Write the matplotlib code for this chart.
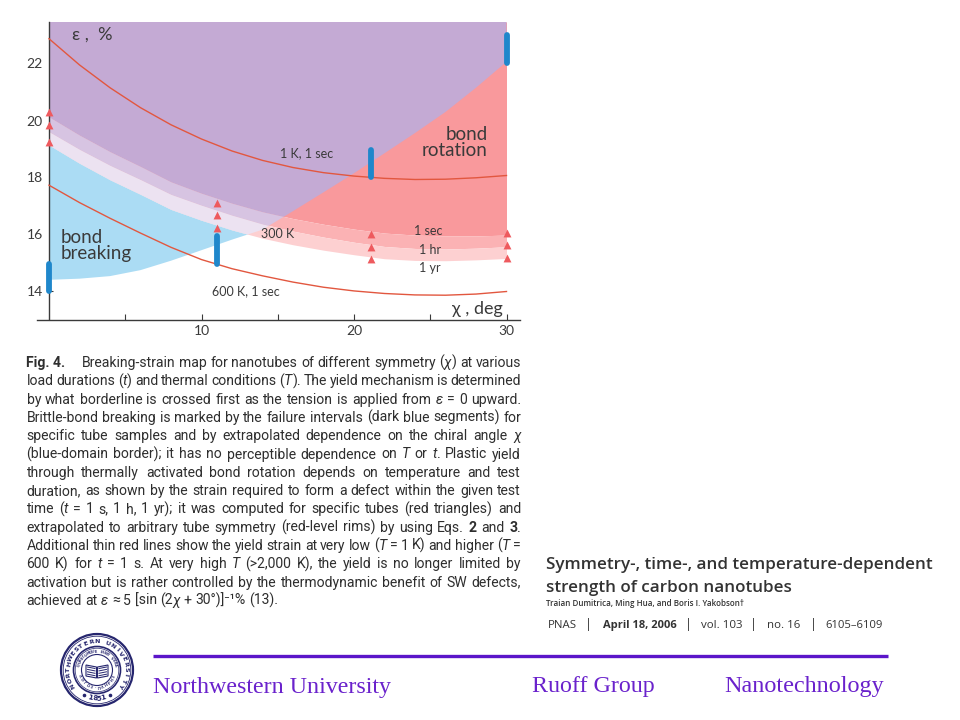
import re
import numpy as np
import matplotlib
matplotlib.use("Agg")
import matplotlib.pyplot as plt
from matplotlib.patches import Polygon, Circle

plt.rcParams['font.family'] = ['Lato', 'DejaVu Sans']

chi = [0, 2, 4, 6, 8, 10, 12, 14, 16, 18, 20, 22, 24, 26, 28, 30]
# red-level rims (bond rotation, 300 K) for t = 1 sec, 1 hr, 1 yr
rim_1sec = [20.13, 19.49, 18.91, 18.39, 17.85, 17.45, 17.10, 16.80, 16.56, 16.36, 16.19, 16.05, 15.98, 15.95, 15.95, 15.98]
rim_1hr = [19.61, 18.99, 18.43, 17.93, 17.41, 17.03, 16.68, 16.37, 16.12, 15.91, 15.73, 15.58, 15.51, 15.49, 15.52, 15.57]
rim_1yr = [19.14, 18.50, 17.92, 17.41, 16.88, 16.50, 16.16, 15.87, 15.64, 15.45, 15.29, 15.15, 15.09, 15.08, 15.11, 15.16]
# blue-domain border (bond breaking)
blue_border = [14.41, 14.45, 14.54, 14.75, 15.08, 15.45, 15.82, 16.17, 16.82, 17.48, 18.15, 18.85, 19.56, 20.30, 21.15, 22.06]
# thin red lines
line_1K = [22.87, 21.95, 21.15, 20.45, 19.85, 19.35, 18.93, 18.60, 18.35, 18.17, 18.05, 17.97, 17.93, 17.94, 17.99, 18.07]
line_600K = [17.73, 17.12, 16.57, 16.05, 15.55, 15.12, 14.80, 14.55, 14.33, 14.15, 14.02, 13.93, 13.88, 13.87, 13.91, 14.00]

# computed tubes (red triangles)
tri_chi = [0, 0, 0, 11.0, 11.0, 11.0, 21.1, 21.1, 21.1, 30, 30, 30]
tri_eps = [20.31, 19.84, 19.26, 17.12, 16.70, 16.22, 16.00, 15.57, 15.13, 16.05, 15.62, 15.18]
# failure intervals (dark blue segments)
bar_chi = [0, 11.0, 21.1, 30]
bar_lo = [14.0, 14.95, 18.0, 22.0]
bar_hi = [14.95, 15.95, 18.95, 23.0]

y_ticks = [14, 16, 18, 20, 22]
x_ticks = [5, 10, 15, 20, 25, 30]
x_tick_labels = ['', '10', '', '20', '', '30']

caption_head = "Fig. 4."
caption = [
    "Breaking-strain map for nanotubes of different symmetry ({i:χ}) at various",
    "load durations ({i:t}) and thermal conditions ({i:T}). The yield mechanism is determined",
    "by what borderline is crossed first as the tension is applied from {i:ε} = 0 upward.",
    "Brittle-bond breaking is marked by the failure intervals (dark blue segments) for",
    "specific tube samples and by extrapolated dependence on the chiral angle {i:χ}",
    "(blue-domain border); it has no perceptible dependence on {i:T} or {i:t}. Plastic yield",
    "through thermally activated bond rotation depends on temperature and test",
    "duration, as shown by the strain required to form a defect within the given test",
    "time ({i:t} = 1 s, 1 h, 1 yr); it was computed for specific tubes (red triangles) and",
    "extrapolated to arbitrary tube symmetry (red-level rims) by using Eqs. {b:2} and {b:3}.",
    "Additional thin red lines show the yield strain at very low ({i:T} = 1 K) and higher ({i:T} =",
    "600 K) for {i:t} = 1 s. At very high {i:T} (>2,000 K), the yield is no longer limited by",
    "activation but is rather controlled by the thermodynamic benefit of SW defects,",
    "achieved at {i:ε} ≈ 5 [sin (2{i:χ} + 30°)]⁻¹% (13).",
]

title_lines = ["Symmetry-, time-, and temperature-dependent", "strength of carbon nanotubes"]
authors = "Traian Dumitrica, Ming Hua, and Boris I. Yakobson†"
pnas_parts = [("PNAS", 548, 577, 'normal'), ("|", 587, 590, 'normal'),
              ("April 18, 2006", 603, 677, 'bold'), ("|", 687, 690, 'normal'),
              ("vol. 103", 701, 742, 'normal'), ("|", 752, 755, 'normal'),
              ("no. 16", 767, 800, 'normal'), ("|", 812, 815, 'normal'),
              ("6105–6109", 825, 882, 'normal')]

c_purple = '#c4aad4'
c_lpurple = '#d7c4e2'
c_lavender = '#ece2f1'
c_blue = '#abdcf4'
c_salmon = '#f9999c'
c_pink = '#fbb2b4'
c_lpink = '#fdd0d1'
c_tri = '#ee5a5e'
c_bar = '#1f87cb'
c_line = '#e2573f'
dark = '#3a3a3a'

fig = plt.figure(figsize=(9.6, 7.2), dpi=100)
ov = fig.add_axes([0, 0, 1, 1])
ov.set_xlim(0, 960)
ov.set_ylim(720, 0)
ov.axis('off')

# chart axes, placed in pixel terms: chi=0 at x=49 px, 15.25 px/deg; eps=20 at y=120.5 px, 28.5 px/unit
ax = fig.add_axes([37 / 960, 1 - 319.5 / 720, (520 - 37) / 960, (319.5 - 22) / 720])
ax.patch.set_alpha(0)
x0, x1 = -(49 - 37) / 15.25, (520 - 49) / 15.25
y0, y1 = 20 - (319.5 - 120.5) / 28.5, 20 + (120.5 - 22) / 28.5
ax.set_xlim(x0, x1)
ax.set_ylim(y0, y1)

# red levels
ax.fill_between(chi, rim_1sec, y1, color=c_salmon, lw=0, zorder=1)
ax.fill_between(chi, rim_1hr, rim_1sec, color=c_pink, lw=0, zorder=1)
ax.fill_between(chi, rim_1yr, rim_1hr, color=c_lpink, lw=0, zorder=1)

# blue domain (everything above the blue border), overlaps drawn in purples
dom = [(c, b) for c, b in zip(chi, blue_border)] + [(chi[-1], y1 + 1), (chi[0], y1 + 1)]
clip = Polygon(dom, closed=True, transform=ax.transData)
for lo, hi, col in [(y0, rim_1yr, c_blue), (rim_1yr, rim_1hr, c_lavender),
                    (rim_1hr, rim_1sec, c_lpurple), (rim_1sec, y1, c_purple)]:
    coll = ax.fill_between(chi, lo, hi, color=col, lw=0, zorder=2)
    coll.set_clip_path(clip)

ax.plot(chi, line_1K, color=c_line, lw=1.0, zorder=3)
ax.plot(chi, line_600K, color=c_line, lw=1.0, zorder=3)
ax.scatter(tri_chi, tri_eps, marker='^', s=32, color=c_tri, lw=0, zorder=4, clip_on=False)
for c, lo, hi in zip(bar_chi, bar_lo, bar_hi):
    ax.plot([c, c], [lo, hi], color=c_bar, lw=4.2, solid_capstyle='round', zorder=5, clip_on=False)

for s in ['top', 'right']:
    ax.spines[s].set_visible(False)
ax.spines['left'].set_position(('data', 0))
for s in ['left', 'bottom']:
    ax.spines[s].set_color(dark)
    ax.spines[s].set_linewidth(1.0)
ax.set_yticks(y_ticks)
ax.set_xticks(x_ticks)
ax.set_xticklabels(x_tick_labels)
ax.tick_params(axis='y', direction='in', length=3, width=0.8, color=dark, labelsize=10, labelcolor=dark, pad=4.5)
ax.tick_params(axis='x', direction='in', length=4, width=0.8, color=dark, labelsize=10, labelcolor=dark, pad=4)

tk = dict(color=dark, zorder=6)
ax.text(1.5, 23.03, "ε ,  %", fontsize=13, ha='left', va='center', **tk)
ax.text(29.73, 13.38, "χ , deg", fontsize=13, ha='right', va='center', **tk)
ax.text(0.73, 15.6, "bond\nbreaking", fontsize=13.5, ha='left', va='center', linespacing=0.92, **tk)
ax.text(28.78, 19.22, "bond\nrotation", fontsize=13.5, ha='right', va='center', linespacing=0.92, **tk)
ax.text(16.92, 18.84, "1 K, 1 sec", fontsize=9, ha='center', va='center', **tk)
ax.text(14.97, 16.01, "300 K", fontsize=9, ha='center', va='center', **tk)
ax.text(24.9, 16.11, "1 sec", fontsize=9, ha='center', va='center', **tk)
ax.text(25.0, 15.46, "1 hr", fontsize=9, ha='center', va='center', **tk)
ax.text(25.0, 14.81, "1 yr", fontsize=9, ha='center', va='center', **tk)
ax.text(12.93, 14.0, "600 K, 1 sec", fontsize=9, ha='center', va='center', **tk)

fig.canvas.draw()
renderer = fig.canvas.get_renderer()

cap_font = ['Roboto', 'DejaVu Sans']
cap_color = '#2e2e2e'
STYLES = {'n': {}, 'i': {'style': 'italic'}, 'b': {'weight': 'bold'}}


def parse_word(word):
    segs = []
    for part in re.split(r'(\{[ib]:[^}]*\})', word):
        if not part:
            continue
        m = re.match(r'\{([ib]):([^}]*)\}', part)
        if m:
            segs.append((m.group(2), m.group(1)))
        else:
            segs.append((part, 'n'))
    return segs


def text_width(s, size, **kw):
    t = ov.text(0, 0, s, fontsize=size, family=cap_font, **kw)
    w = t.get_window_extent(renderer).width
    t.remove()
    return w


def word_width(segs, size):
    return sum(text_width(s, size, **STYLES[st]) for s, st in segs)


def draw_words(words, xl, xr, y, size, justify=True):
    widths = [word_width(w, size) for w in words]
    space = text_width("a a", size) - text_width("aa", size)
    if justify and len(words) > 1:
        gap = max(1.0, (xr - xl - sum(widths)) / (len(words) - 1))
    else:
        gap = space
    x = xl
    for segs, w in zip(words, widths):
        xx = x
        for s, st in segs:
            ov.text(xx, y, s, fontsize=size, family=cap_font, ha='left', va='baseline',
                    color=cap_color, **STYLES[st])
            xx += text_width(s, size, **STYLES[st])
        x += w + gap


# caption, justified like the journal column
cap_left, cap_right = 26.5, 521
cap_indent = 81.7
words_per_line = [[parse_word(w) for w in line.split(' ')] for line in caption]
base = 10.0
nat = []
sp = text_width("a a", base) - text_width("aa", base)
for i, words in enumerate(words_per_line[:-1]):
    span = (cap_right - cap_indent) if i == 0 else (cap_right - cap_left)
    ww = sum(word_width(w, base) for w in words)
    nat.append((ww + sp * (len(words) - 1)) / span)
cap_size = base * min(0.99 / np.mean(nat), 1.02 / max(nat))

y_base = 367.0
for i, words in enumerate(words_per_line):
    y = y_base + 18.3 * i
    if i == 0:
        ov.text(cap_left, y, caption_head, fontsize=cap_size, family=cap_font, weight='bold',
                ha='left', va='baseline', color=cap_color)
        draw_words(words, cap_indent, cap_right, y, cap_size)
    else:
        draw_words(words, cap_left, cap_right, y, cap_size, justify=(i < len(words_per_line) - 1))


def fit_text(xl, xr, y, s, **kw):
    t = ov.text(xl, y, s, fontsize=10, ha='left', va='baseline', **kw)
    w = t.get_window_extent(renderer).width
    t.set_fontsize(10 * (xr - xl) / w)
    return t


cite = '#333333'
sans = ['Open Sans', 'DejaVu Sans']
t1 = fit_text(546, 930, 569, title_lines[0], color=cite, weight='semibold', family=sans)
ov.text(546, 591.5, title_lines[1], fontsize=t1.get_fontsize(), ha='left', va='baseline', color=cite,
        weight='semibold', family=sans)
fit_text(546, 743, 606.5, authors, color=cite, weight='semibold', family=sans)
for s, xa, xb, wt in pnas_parts:
    if s == "|":
        ov.text((xa + xb) / 2, 628, s, fontsize=9, ha='center', va='baseline', color=cite, family=sans)
    else:
        fit_text(xa, xb, 628, s, color=cite, weight=wt, family=sans)

# footer
violet = '#5b16c9'
ov.plot([153, 888], [656, 656], color=violet, lw=2.4, solid_capstyle='butt')
serif = ['Liberation Serif', 'DejaVu Serif']
fc = '#6a22cc'
fit_text(153, 391, 693, "Northwestern University", color=fc, family=serif)
fit_text(532, 655, 692, "Ruoff Group", color=fc, family=serif)
fit_text(724, 884, 692, "Nanotechnology", color=fc, family=serif)

# university seal
cx, cy, R = 97, 670, 36
navy = '#26266e'
for r, lw in [(R, 1.6), (R - 2.2, 0.6), (23.5, 1.2), (21.8, 0.5), (15.5, 0.8)]:
    ov.add_patch(Circle((cx, cy), r, fill=False, ec=navy, lw=lw))
name = "NORTHWESTERN UNIVERSITY"
for ch, a in zip(name, np.linspace(212, -32, len(name))):
    t = np.deg2rad(a)
    ov.text(cx + 28.6 * np.cos(t), cy - 28.6 * np.sin(t), ch, rotation=a - 90, ha='center', va='center',
            fontsize=4.6, weight='bold', color=navy, family='DejaVu Sans')
for ch, a in zip("1851", [257, 265.5, 274.5, 283]):
    t = np.deg2rad(a)
    ov.text(cx + 28.6 * np.cos(t), cy - 28.6 * np.sin(t), ch, rotation=a - 270, ha='center', va='center',
            fontsize=5.2, weight='bold', color=navy, family='DejaVu Sans')
for a in [243, 297]:
    t = np.deg2rad(a)
    ov.plot(cx + 28.6 * np.cos(t), cy - 28.6 * np.sin(t), 'o', ms=1.6, color=navy)
motto = "QUAECUMQUE SUNT VERA"
for ch, a in zip(motto, np.linspace(165, 15, len(motto))):
    t = np.deg2rad(a)
    ov.text(cx + 18.6 * np.cos(t), cy - 18.6 * np.sin(t), ch, rotation=a - 90, ha='center', va='center',
            fontsize=2.5, weight='bold', color=navy, family='DejaVu Sans')
for ch, a in zip("ΛΟΓΟΣ·ΠΛΗΡΗΣ", np.linspace(200, 340, 12)):
    t = np.deg2rad(a)
    ov.text(cx + 18.6 * np.cos(t), cy - 18.6 * np.sin(t), ch, rotation=a - 270, ha='center', va='center',
            fontsize=2.5, weight='bold', color=navy, family='DejaVu Sans')
left_page = [(cx - 11, cy - 5), (cx - 0.5, cy - 3), (cx - 0.5, cy + 8), (cx - 11, cy + 6)]
right_page = [(cx + 11, cy - 5), (cx + 0.5, cy - 3), (cx + 0.5, cy + 8), (cx + 11, cy + 6)]
for pg in [left_page, right_page]:
    ov.add_patch(Polygon(pg, closed=True, fc='white', ec=navy, lw=0.8))
for k in range(4):
    dy = -1.5 + 2.4 * k
    ov.plot([cx - 9.5, cx - 2], [cy + dy - 1.5, cy + dy], color=navy, lw=0.7)
    ov.plot([cx + 2, cx + 9.5], [cy + dy, cy + dy - 1.5], color=navy, lw=0.7)

fig.savefig("out.png", dpi=100)
